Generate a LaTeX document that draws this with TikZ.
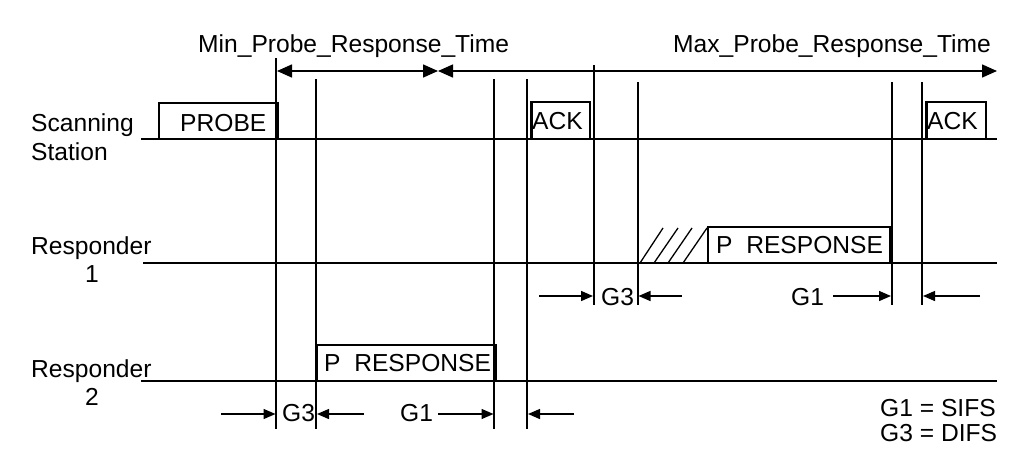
\documentclass[tikz,border=0pt]{standalone}
\usepackage{fontspec}
\setmainfont{Liberation Sans}
\usetikzlibrary{arrows.meta}
\begin{document}
\begin{tikzpicture}[x=1pt,y=-1pt,
  tline/.style={line width=1.5pt},
  boxline/.style={line width=2.4pt},
  boxside/.style={line width=3.6pt},
  hatch/.style={line width=1.3pt},
  lbl/.style={inner sep=0pt, anchor=base west, font=\fontsize{24.6}{28}\selectfont},
  clbl/.style={inner sep=0pt, anchor=base, font=\fontsize{24.6}{28}\selectfont},
  gaparrow/.style={line width=1.4pt, -{Triangle[length=12pt,width=10pt]}},
  spanarrow/.style={line width=1.5pt, {Triangle[length=15pt,width=13pt]}-{Triangle[length=15pt,width=13pt]}},
]
\useasboundingbox (0,0) rectangle (1035,466);

% timelines
\coordinate (s0) at (141,139); \coordinate (s1) at (997,139);
\coordinate (r10) at (143,263); \coordinate (r11) at (997,263);
\coordinate (r20) at (141,381); \coordinate (r21) at (997,381);
\draw[tline] (s0) -- (s1);
\draw[tline] (r10) -- (r11);
\draw[tline] (r20) -- (r21);

% vertical markers
\foreach \x/\a/\b in {276/58/429, 316/79/429, 494/79/429, 527/79/429,
                      594/65/305, 638/82/305, 892/82/305, 922/82/305}
  \draw[tline] (\x,\a) -- (\x,\b);

% top spans
\coordinate (m0) at (277,71); \coordinate (m1) at (438,71); \coordinate (m2) at (997,71);
\draw[spanarrow] (m0) -- (m1);
\draw[spanarrow] (m1) -- (m2);
\node[lbl] (minlbl) at (198,52) {Min\_Probe\_Response\_Time};
\node[lbl] (maxlbl) at (673,52) {Max\_Probe\_Response\_Time};

% row labels
\node[lbl] (scan) at (31,131) {Scanning};
\node[lbl] (stat) at (31,160) {Station};
\node[lbl] (resp1) at (31,254) {Responder};
\node[clbl] (resp1n) at (92,282) {1};
\node[lbl] (resp2) at (31,377) {Responder};
\node[clbl] (resp2n) at (92,405) {2};

% frames
\draw[boxline] (159,103) rectangle (278,139);
\draw[boxside] (277.5,102) -- (277.5,140);
\node[lbl] (probe) at (180,131) {PROBE};

\draw[boxline] (531,102) rectangle (590,139);
\draw[boxside] (531.5,101) -- (531.5,140);
\node[lbl] (ack1) at (532,129.5) {ACK};

\draw[boxline] (926,102) rectangle (986,139);
\draw[boxside] (926.5,101) -- (926.5,140);
\node[lbl] (ack2) at (927,129.5) {ACK};

\draw[boxline] (708,227) rectangle (891,263);
\draw[boxside] (890.5,226) -- (890.5,264);
\node[lbl] (pr1) at (716,253) {P\ \ RESPONSE};

\draw[boxline] (317,345) rectangle (496,381);
\draw[boxside] (495.5,344) -- (495.5,382);
\node[lbl] (pr2) at (324,371) {P\ \ RESPONSE};

% backoff hatching
\foreach \xa/\xb in {640/663, 654/678, 668/692, 683/707}
  \draw[hatch] (\xa,263) -- (\xb,228);

% gap arrows, responder 1 row
\draw[gaparrow] (539,296) -- (593,296);
\node[lbl] (g3a) at (601,305) {G3};
\draw[gaparrow] (682,296) -- (638.5,296);
\node[lbl] (g1a) at (791,305) {G1};
\draw[gaparrow] (833,296) -- (891,296);
\draw[gaparrow] (980,296) -- (923,296);

% gap arrows, responder 2 row
\draw[gaparrow] (221,414) -- (275.5,414);
\node[lbl] (g3b) at (282,421) {G3};
\draw[gaparrow] (364,414) -- (317,414);
\node[lbl] (g1b) at (400,421) {G1};
\draw[gaparrow] (438,414) -- (493.5,414);
\draw[gaparrow] (574,414) -- (528,414);

% legend
\node[lbl] (leg1) at (880,416) {G1 = SIFS};
\node[lbl] (leg2) at (880,441) {G3 = DIFS};
\end{tikzpicture}
\end{document}
